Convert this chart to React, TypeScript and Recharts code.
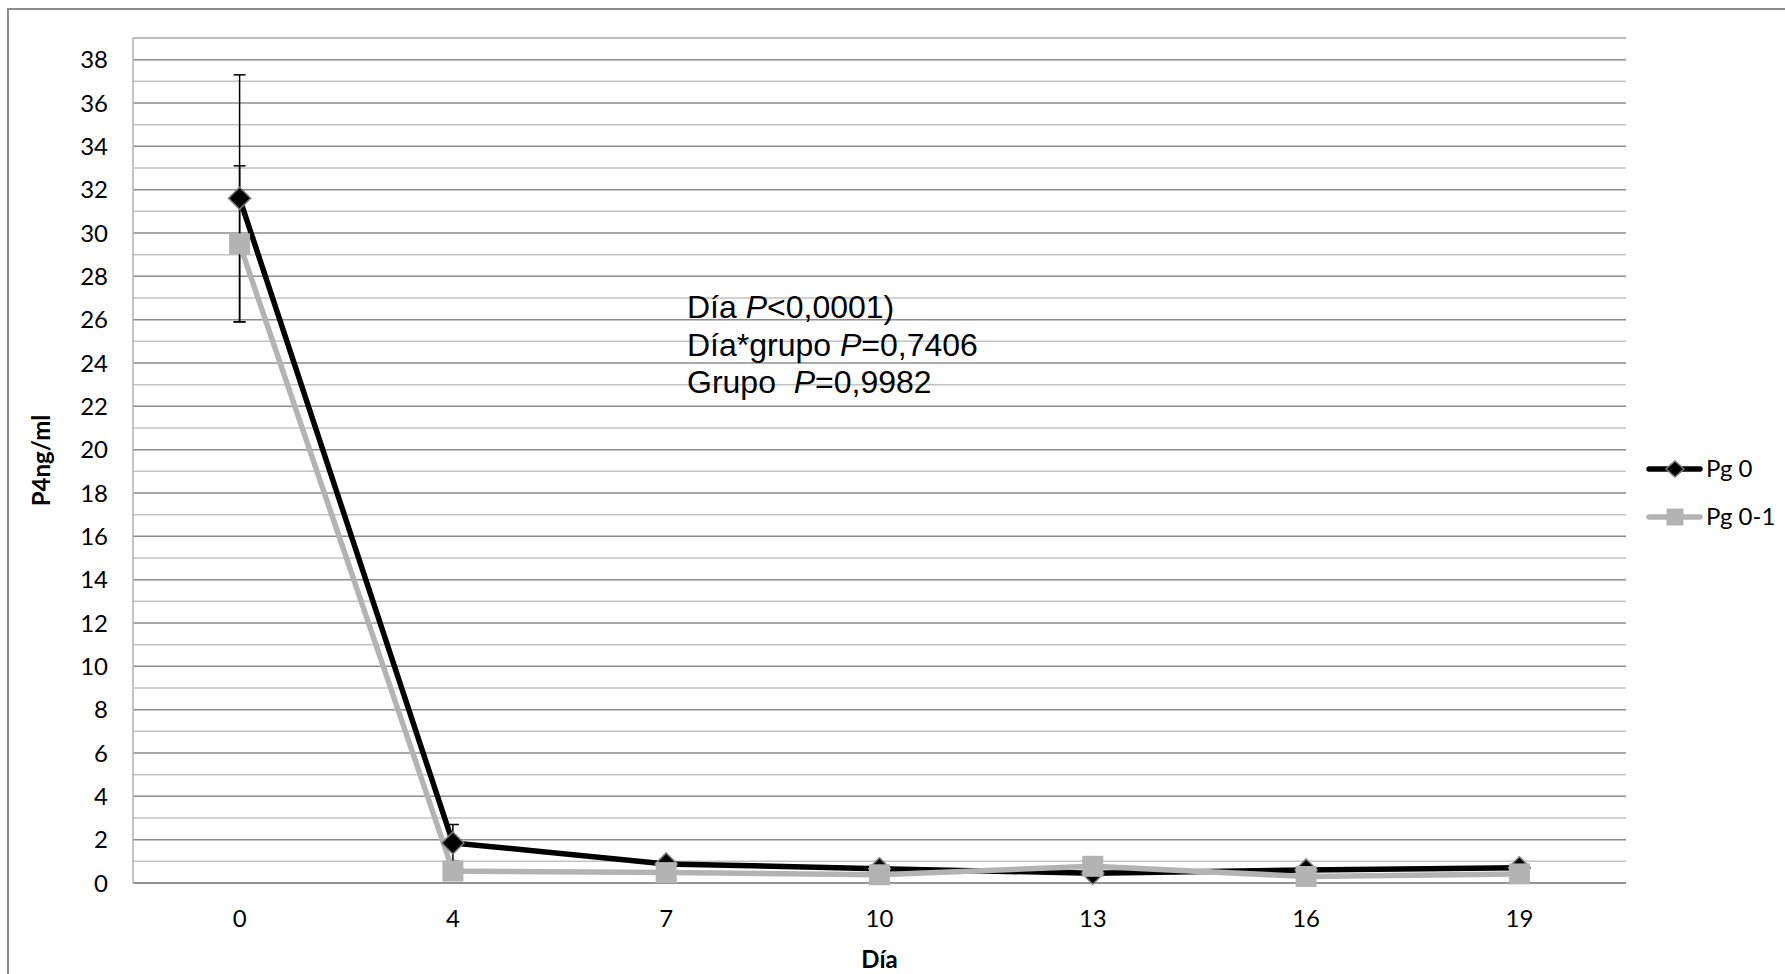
import React from "react";
import {
  LineChart,
  Line,
  XAxis,
  YAxis,
  CartesianGrid,
  ErrorBar,
  ReferenceLine,
} from "recharts";

const dias = ["0", "4", "7", "10", "13", "16", "19"];
const pg0 = [31.6, 1.85, 0.88, 0.66, 0.45, 0.6, 0.7];
const pg0Err = [5.7, 0.85, 0.15, 0.12, 0.1, 0.12, 0.14];
const pg01 = [29.5, 0.55, 0.48, 0.38, 0.77, 0.3, 0.42];
const pg01Err = [3.6, 0.3, 0.1, 0.1, 0.15, 0.1, 0.1];
const yTicks = [0, 2, 4, 6, 8, 10, 12, 14, 16, 18, 20, 22, 24, 26, 28, 30, 32, 34, 36, 38];
const yMinor = [1, 3, 5, 7, 9, 11, 13, 15, 17, 19, 21, 23, 25, 27, 29, 31, 33, 35, 37, 39];
const series = ["Pg 0", "Pg 0-1"];
const anotaciones = [
  ["Día ", "P", "<0,0001)"],
  ["Día*grupo ", "P", "=0,7406"],
  ["Grupo  ", "P", "=0,9982"],
];

const data = dias.map((dia, i) => ({
  dia,
  pg0: pg0[i],
  pg0Err: pg0Err[i],
  pg01: pg01[i],
  pg01Err: pg01Err[i],
}));

const TICK_FONT = "Lato, 'Open Sans', sans-serif";

const Rombo = (props: any) => {
  const { cx, cy, index } = props;
  if (cx == null || cy == null) return null;
  return (
    <path
      key={`r-${index}`}
      d={`M${cx},${cy - 11} L${cx + 11},${cy} L${cx},${cy + 11} L${cx - 11},${cy} Z`}
      fill="#000"
      stroke="#7a7a7a"
      strokeWidth={1.5}
    />
  );
};

const Cuadrado = (props: any) => {
  const { cx, cy, index } = props;
  if (cx == null || cy == null) return null;
  return <rect key={`c-${index}`} x={cx - 10.5} y={cy - 10.5} width={21} height={21} fill="#b3b3b3" />;
};

// leyenda a la derecha, fuera del área del gráfico
const Leyenda = () => (
  <svg width={145} height={100} style={{ position: "absolute", left: 1640, top: 445 }}>
    {series.map((name, i) => {
      const y = 24 + i * 48;
      const color = i === 0 ? "#000" : "#b3b3b3";
      return (
        <g key={name}>
          <line x1={9} y1={y} x2={60} y2={y} stroke={color} strokeWidth={5.5} strokeLinecap="round" />
          {i === 0 ? (
            <path d={`M35,${y - 8} L44,${y} L35,${y + 8} L26,${y} Z`} fill="#000" stroke="#7a7a7a" strokeWidth={1.5} />
          ) : (
            <rect x={26.5} y={y - 8.5} width={17} height={17} fill="#b3b3b3" />
          )}
          <text x={66} y={y + 8} fontSize={24} fontFamily={TICK_FONT} fill="#000">
            {name}
          </text>
        </g>
      );
    })}
  </svg>
);

export default function App() {
  return (
    <div style={{ position: "relative", width: 1785, height: 974, overflow: "hidden", background: "#fff" }}>
      <style>{"body{margin:0}"}</style>
      <div
        style={{
          position: "absolute",
          left: 7,
          top: 8,
          width: 1820,
          height: 1020,
          border: "2px solid #8c8c8c",
          boxSizing: "border-box",
          pointerEvents: "none",
        }}
      />
      <LineChart width={1785} height={974} data={data} margin={{ top: 38, right: 159, bottom: 0, left: 0 }}>
        <CartesianGrid vertical={false} stroke="#8c8c8c" strokeWidth={1.5} />
        {yMinor.map((v) => (
          <ReferenceLine key={v} y={v} stroke="#c3c3c3" strokeWidth={1.5} ifOverflow="extendDomain" />
        ))}
        <XAxis
          dataKey="dia"
          scale="point"
          padding={{ left: 106.6, right: 106.6 }}
          interval={0}
          tickLine={false}
          tickSize={0}
          tickMargin={27}
          height={91}
          axisLine={{ stroke: "#8c8c8c", strokeWidth: 1.5 }}
          tick={{ fontSize: 24, fill: "#000", fontFamily: TICK_FONT }}
          label={{
            value: "Día",
            position: "insideBottom",
            offset: 6,
            fontSize: 24,
            fontWeight: 700,
            fill: "#000",
            fontFamily: TICK_FONT,
          }}
        />
        <YAxis
          type="number"
          domain={[0, 39]}
          ticks={yTicks}
          interval={0}
          width={133}
          tickLine={false}
          tickSize={0}
          tickMargin={25}
          axisLine={{ stroke: "#b0b0b0", strokeWidth: 1.5 }}
          tick={{ fontSize: 24, fill: "#000", fontFamily: TICK_FONT }}
          label={{
            content: (p: any) => {
              const vb = p.viewBox || { x: 0, y: 38, width: 133, height: 845 };
              const cx = vb.x + 50;
              const cy = vb.y + vb.height / 2;
              return (
                <text
                  x={cx}
                  y={cy}
                  transform={`rotate(-90, ${cx}, ${cy})`}
                  textAnchor="middle"
                  fontSize={24}
                  fontWeight={700}
                  fontFamily={TICK_FONT}
                  fill="#000"
                >
                  P4ng/ml
                </text>
              );
            },
          }}
        />
        <Line
          type="linear"
          dataKey="pg0"
          name={series[0]}
          stroke="#000"
          strokeWidth={5.5}
          dot={Rombo}
          activeDot={false}
          isAnimationActive={false}
        >
          <ErrorBar dataKey="pg0Err" width={6} strokeWidth={1.5} stroke="#000" direction="y" isAnimationActive={false} />
        </Line>
        <Line
          type="linear"
          dataKey="pg01"
          name={series[1]}
          stroke="#b3b3b3"
          strokeWidth={5.5}
          dot={Cuadrado}
          activeDot={false}
          isAnimationActive={false}
        >
          <ErrorBar dataKey="pg01Err" width={6} strokeWidth={1.5} stroke="#000" direction="y" isAnimationActive={false} />
        </Line>
      </LineChart>
      <Leyenda />
      <div
        style={{
          position: "absolute",
          left: 687,
          top: 289,
          fontFamily: "'Liberation Sans', Arial, sans-serif",
          fontSize: 32,
          lineHeight: "37.5px",
          color: "#000",
          whiteSpace: "pre",
        }}
      >
        {anotaciones.map(([a, p, b]) => (
          <div key={a}>
            {a}
            <i>{p}</i>
            {b}
          </div>
        ))}
      </div>
    </div>
  );
}
